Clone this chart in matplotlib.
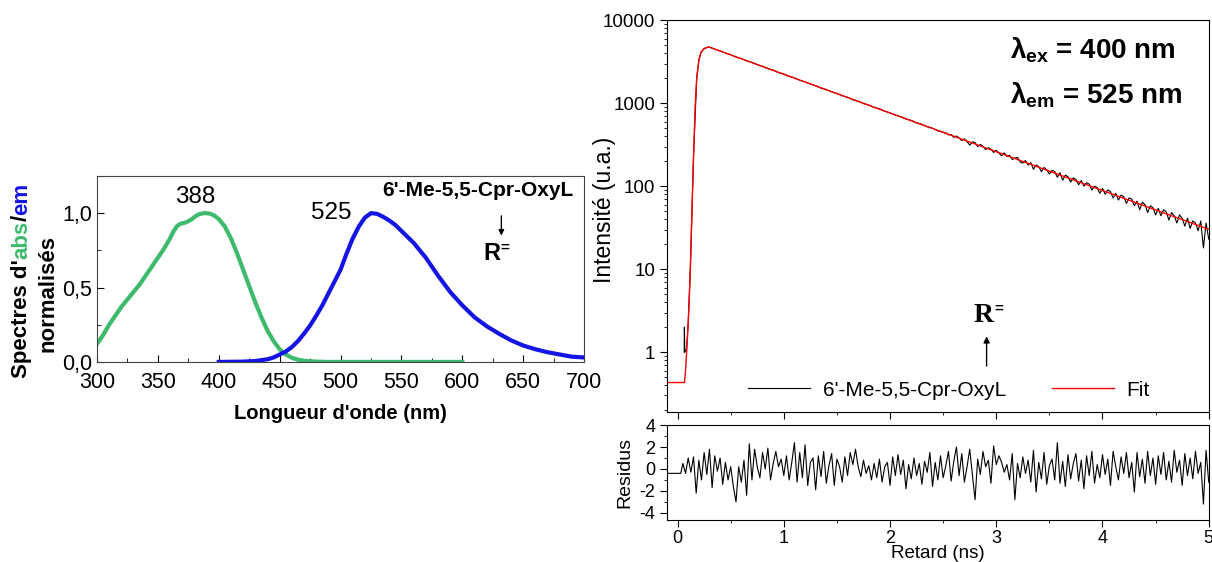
import numpy as np
import matplotlib.pyplot as plt
from matplotlib.ticker import MultipleLocator, FixedLocator, LogLocator, NullFormatter

plt.rcParams['font.family'] = ['Liberation Sans', 'DejaVu Sans']
plt.rcParams['axes.unicode_minus'] = False
plt.rcParams['mathtext.fontset'] = 'custom'
plt.rcParams['mathtext.rm'] = 'Liberation Sans'
plt.rcParams['mathtext.bf'] = 'Liberation Sans:bold'

# --- spectra (left panel) ---
abs_wl = [300, 305, 310, 315, 320, 325, 330, 335, 340, 345, 350, 355, 360, 363, 366, 369,
          372, 375, 378, 381, 384, 388, 392, 396, 400, 405, 410, 415, 420, 425, 430, 435,
          440, 445, 450, 455, 460, 465, 470, 480, 490, 600]
abs_val = [0.12, 0.18, 0.25, 0.31, 0.37, 0.42, 0.47, 0.52, 0.58, 0.64, 0.70, 0.76, 0.83,
           0.88, 0.915, 0.93, 0.935, 0.945, 0.96, 0.98, 0.993, 1.0, 0.998, 0.985, 0.96,
           0.91, 0.83, 0.73, 0.62, 0.51, 0.40, 0.30, 0.21, 0.14, 0.085, 0.05, 0.028,
           0.015, 0.008, 0.002, 0.0, 0.0]
em_wl = [400, 420, 430, 440, 445, 450, 455, 460, 465, 470, 475, 480, 485, 490, 495, 500,
         505, 510, 515, 520, 525, 530, 535, 540, 545, 550, 560, 570, 580, 590, 600, 610,
         620, 630, 640, 650, 660, 670, 680, 690, 700]
em_val = [0.0, 0.002, 0.006, 0.018, 0.03, 0.05, 0.07, 0.10, 0.14, 0.19, 0.245, 0.31, 0.38,
          0.46, 0.54, 0.62, 0.73, 0.83, 0.91, 0.97, 1.0, 0.995, 0.975, 0.95, 0.92, 0.88,
          0.80, 0.70, 0.58, 0.47, 0.38, 0.30, 0.24, 0.19, 0.145, 0.11, 0.085, 0.065,
          0.05, 0.035, 0.03]

# --- decay (right panel) ---
fit_t = [-0.1, 0.065, 0.075, 0.085, 0.1, 0.11, 0.12, 0.135, 0.15, 0.165, 0.18, 0.2,
         0.22, 0.25, 0.28, 0.3, 1.0, 2.0, 3.0, 4.0, 5.0]
fit_i = [0.43, 0.43, 0.6, 1.0, 2.2, 4.5, 10, 50, 220, 900, 2000, 3300,
         4100, 4550, 4720, 4740, 2234, 762, 260, 88.6, 30.2]

rise_t = [0.062, 0.064, 0.068, 0.085, 0.1, 0.12, 0.15, 0.18, 0.2, 0.22, 0.25, 0.28]
rise_i = [1.0, 2.0, 1.0, 1.1, 2.3, 10, 230, 2000, 3300, 4100, 4560, 4700]

early_i = [4740, 4480, 4270, 4020, 3840, 3600, 3450, 3240, 3100, 2910, 2780, 2610, 2500,
           2340, 2240, 2110, 2020, 1890, 1810, 1700, 1625, 1520, 1460, 1370, 1310, 1230,
           1180, 1100, 1060, 990, 950, 890, 855, 800, 765, 718, 690, 645, 620, 578, 556,
           520, 500, 465, 448]
late_i = [438, 415, 420, 388, 402, 382, 355, 372, 345, 312, 342, 335, 300, 318, 302, 276,
          290, 280, 255, 270, 250, 232, 252, 228, 236, 210, 218, 222, 196, 190, 204, 180,
          192, 160, 180, 172, 150, 168, 158, 140, 155, 150, 128, 145, 118, 136, 130, 112,
          126, 120, 104, 117, 100, 110, 106, 90, 100, 96, 82, 94, 80, 90, 86, 72, 82, 68,
          78, 75, 62, 72, 70, 58, 66, 52, 64, 60, 48, 58, 55, 45, 54, 44, 52, 49, 39, 48,
          44, 36, 45, 41, 33, 41, 31, 38, 36, 29, 38, 18, 36, 23]

resid = [0.5, -0.4, 1.0, -0.3, 1.1, -2.2, 0.8, -1.0, 1.5, -0.5,
         1.8, -1.7, 1.2, -0.2, 1.0, -1.4, 0.6, -1.0, 0.2, -1.6,
         -3.0, 0.2, -1.2, 0.8, -2.4, 2.3, -1.0, 1.8, 0.2, -0.8,
         1.5, 0.0, 1.9, -1.0, 0.5, 1.6, 0.2, 0.9, -0.6, 1.2,
         -1.0, 0.6, 2.4, -1.2, 1.5, -0.8, 2.2, -1.5, 0.6, 1.0,
         -1.9, 1.2, -0.7, 1.6, -1.3, 0.3, 1.4, -1.5, 0.9, 0.2,
         -1.2, 1.1, -0.6, 1.5, 0.4, 1.8, 0.2, -0.7, 0.8, -0.4,
         0.3, -1.0, 0.5, -0.8, 0.9, -1.2, 0.2, 0.6, -1.5, 1.1,
         -0.6, 1.3, -0.5, 0.8, -1.8, 0.4, -0.9, 1.0, -0.6, 0.5,
         -1.4, 0.7, -0.3, 1.5, -1.6, 0.6, -1.0, 1.2, -0.8, 0.3,
         1.6, -1.1, 0.7, 2.0, -0.6, 1.4, -1.2, 0.2, 1.8, -0.5,
         -2.8, 0.9, -0.5, 1.6, 0.2, 0.8, -1.3, 2.1, 0.4, 1.2,
         0.6, -0.3, 0.4, -1.0, 1.4, -2.8, 0.5, -0.8, 1.1, -0.4,
         0.8, -1.2, 1.7, -2.1, 0.6, -0.9, 1.5, -1.4, 0.3, 0.9,
         -1.0, 2.4, -1.3, 0.7, -1.6, 1.3, -0.9, 0.5, 1.4, -1.1,
         0.8, -1.8, 1.2, -0.6, 1.6, -1.3, 0.4, -0.8, 1.3, -0.5,
         0.9, -1.5, 1.6, 0.2, -1.0, 1.1, -0.4, 1.5, -0.8, 0.6,
         -2.1, 1.5, -0.7, 0.9, -1.3, 1.6, -0.6, 1.0, -1.4, 1.2,
         -0.5, 1.5, -1.0, 0.7, -1.2, 1.7, -0.3, 0.8, -1.5, 1.4,
         -0.6, 1.0, -0.9, 1.6, -0.4, 0.6, -3.2, 1.7, -1.2]

t_early = np.round(np.arange(0.30, 2.501, 0.05), 3)
t_late = np.round(np.arange(2.525, 5.001, 0.025), 3)
t_res = np.round(np.arange(0.05, 5.001, 0.025), 3)

data_t = np.concatenate([rise_t, t_early, t_late])
data_i = np.concatenate([rise_i, early_i, late_i])
res_t = np.concatenate([[-0.1, 0.03], t_res])
res_v = np.concatenate([[-0.4, -0.4], resid])

green = '#3dba6c'
blue = '#1414e6'

fig = plt.figure(figsize=(12.12, 5.62), dpi=100)

# ---------- left panel ----------
ax1 = fig.add_axes([0.080, 0.356, 0.402, 0.331])
ax1.plot(abs_wl, abs_val, color=green, lw=3)
ax1.plot(em_wl, em_val, color=blue, lw=3)
ax1.set_xlim(300, 700)
ax1.set_ylim(0, 1.25)
ax1.set_xticks(range(300, 701, 50))
ax1.xaxis.set_minor_locator(MultipleLocator(25))
ax1.set_yticks([0, 0.5, 1.0])
ax1.set_yticklabels(['0,0', '0,5', '1,0'])
ax1.yaxis.set_minor_locator(MultipleLocator(0.25))
ax1.tick_params(which='both', direction='in', labelsize=15.5)
ax1.tick_params(axis='x', pad=7)
ax1.tick_params(which='major', length=5)
ax1.tick_params(which='minor', length=3)
ax1.set_xlabel("Longueur d'onde (nm)", fontsize=14.5, fontweight='bold', labelpad=8)
for s in ax1.spines.values():
    s.set_color('#444444')

ax1.text(381, 1.11, '388', fontsize=17.5, ha='center', va='center')
ax1.text(492, 1.0, '525', fontsize=17.5, ha='center', va='center')
ax1.text(613, 1.15, "6'-Me-5,5-Cpr-OxyL", fontsize=15, fontweight='bold', ha='center', va='center')
ax1.annotate('', xy=(632, 0.83), xytext=(632, 1.0),
             arrowprops=dict(arrowstyle='-|>', color='black', lw=1, mutation_scale=8))
rl = ax1.text(624, 0.73, 'R', fontsize=17, fontweight='bold', ha='center', va='center')
ax1.annotate('=', xy=(1, 0.75), xycoords=rl, fontsize=11, fontweight='bold', ha='left', va='center')

# multicolour y label
t1 = fig.text(0.009, 0.327, "Spectres d'", rotation=90, ha='left', va='bottom',
              fontsize=16, fontweight='bold')
t2 = fig.text(0, 0, 'abs', rotation=90, ha='left', va='bottom', fontsize=16,
              fontweight='bold', color=green)
t3 = fig.text(0, 0, '/', rotation=90, ha='left', va='bottom', fontsize=16, fontweight='bold')
t4 = fig.text(0, 0, 'em', rotation=90, ha='left', va='bottom', fontsize=16,
              fontweight='bold', color=blue)
fig.canvas.draw()
r = fig.canvas.get_renderer()
prev = t1
for t in (t2, t3, t4):
    bb = prev.get_window_extent(r)
    t.set_position(fig.transFigure.inverted().transform((bb.x0, bb.y1)))
    fig.canvas.draw()
    prev = t
fig.text(0.031, 0.374, 'normalisés', rotation=90, ha='left', va='bottom',
         fontsize=16, fontweight='bold')

# ---------- right main panel ----------
ax2 = fig.add_axes([0.5503, 0.267, 0.447, 0.697])
ax2.semilogy(data_t, data_i, color='black', lw=0.8, label="6'-Me-5,5-Cpr-OxyL")
ax2.semilogy(fit_t, fit_i, color='red', lw=1.0, label='Fit')
ax2.set_xlim(-0.1, 5)
ax2.set_ylim(0.19, 10000)
ax2.set_xticks(range(6))
ax2.xaxis.set_minor_locator(MultipleLocator(0.5))
ax2.set_xticklabels([])
ax2.yaxis.set_major_locator(FixedLocator([1, 10, 100, 1000, 10000]))
ax2.set_yticklabels(['1', '10', '100', '1000', '10000'])
ax2.yaxis.set_minor_locator(LogLocator(base=10, subs=np.arange(2, 10), numticks=20))
ax2.yaxis.set_minor_formatter(NullFormatter())
ax2.tick_params(which='both', direction='out', labelsize=13.5)
ax2.tick_params(which='major', length=5)
ax2.tick_params(which='minor', length=2.5)
ax2.set_ylabel('Intensité (u.a.)', fontsize=16.5)
ax2.yaxis.set_label_coords(-0.094, 0.515)
ax2.legend(loc='center', bbox_to_anchor=(0.52, 0.056), ncol=2, frameon=False,
           fontsize=15, handlelength=3.0, columnspacing=2.2, handletextpad=0.6)

ax2.text(0.633, 0.923, r'$\mathbf{\lambda_{ex}}$ = 400 nm', transform=ax2.transAxes,
         fontsize=20, fontweight='bold', ha='left', va='center')
ax2.text(0.633, 0.809, r'$\mathbf{\lambda_{em}}$ = 525 nm', transform=ax2.transAxes,
         fontsize=20, fontweight='bold', ha='left', va='center')
ax2.annotate('', xy=(0.59, 0.20), xytext=(0.59, 0.11), xycoords='axes fraction',
             arrowprops=dict(arrowstyle='-|>', color='black', lw=1, mutation_scale=9))
rr = ax2.text(0.585, 0.245, 'R', transform=ax2.transAxes, fontsize=20, fontweight='bold',
              family='Liberation Serif', ha='center', va='center')
ax2.annotate('=', xy=(1, 0.8), xycoords=rr, fontsize=11, fontweight='bold',
             ha='left', va='center')

# ---------- residuals ----------
ax3 = fig.add_axes([0.5503, 0.0747, 0.447, 0.169])
ax3.plot(res_t, res_v, color='black', lw=0.8)
ax3.set_xlim(-0.1, 5)
ax3.set_ylim(-4.65, 4)
ax3.set_xticks(range(6))
ax3.xaxis.set_minor_locator(MultipleLocator(0.5))
ax3.set_yticks([-4, -2, 0, 2, 4])
ax3.yaxis.set_minor_locator(MultipleLocator(1))
ax3.tick_params(which='both', direction='out', labelsize=13)
ax3.tick_params(axis='x', pad=2)
ax3.tick_params(which='major', length=5)
ax3.tick_params(which='minor', length=2.5)
ax3.set_xlabel('Retard (ns)', fontsize=13.5, labelpad=-1)
ax3.set_ylabel('Residus', fontsize=14, labelpad=4)

fig.savefig('out.png', dpi=100)
